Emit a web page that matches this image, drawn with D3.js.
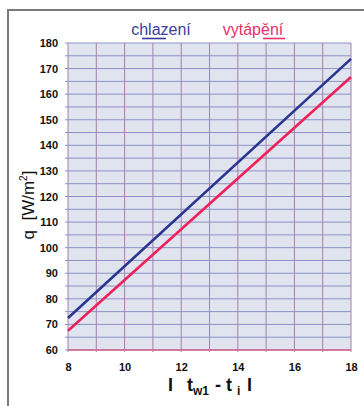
<!DOCTYPE html>
<meta charset="utf-8">
<style>
    body { margin: 0; background: #fff; }
    .tick text { font-family: "Liberation Sans", Arial, sans-serif; font-weight: bold; font-size: 11px; fill: #111; }
</style>
<svg width="364" height="406"></svg>
<script src="https://d3js.org/d3.v7.min.js"></script>
<script>
var xValues = [8, 18];
var chlazeni = [72.5, 173.8];
var vytapeni = [67.5, 166.7];
var xTicks = [8, 10, 12, 14, 16, 18];
var yTicks = [60, 70, 80, 90, 100, 110, 120, 130, 140, 150, 160, 170, 180];

var svg = d3.select("svg");
var plotLeft = 68, plotRight = 351, plotTop = 43, plotBottom = 350;

var x = d3.scaleLinear().domain([8, 18]).range([plotLeft, plotRight]);
var y = d3.scaleLinear().domain([60, 180]).range([plotBottom, plotTop]);

// frame
svg.append("path")
    .attr("d", "M8,420V10H370")
    .attr("fill", "none")
    .attr("stroke", "#7a7a7a")
    .attr("stroke-width", 2);

// paper
svg.append("rect")
    .attr("x", plotLeft).attr("y", plotTop)
    .attr("width", plotRight - plotLeft).attr("height", plotBottom - plotTop)
    .attr("fill", "#e0e4ef");

// grid
svg.append("g")
    .selectAll("line")
    .data(d3.range(60, 181, 5))
    .enter()
    .append("line")
    .attr("x1", plotLeft - 3).attr("x2", plotRight)
    .attr("y1", function(d) { return y(d); })
    .attr("y2", function(d) { return y(d); })
    .attr("stroke", "#8c92c4")
    .attr("stroke-width", 1);
svg.append("g")
    .selectAll("line")
    .data(d3.range(8, 18.5, 1))
    .enter()
    .append("line")
    .attr("y1", plotTop).attr("y2", plotBottom + 2)
    .attr("x1", function(d) { return x(d); })
    .attr("x2", function(d) { return x(d); })
    .attr("stroke", "#a77fae")
    .attr("stroke-width", 1);

// axes (labels only)
var yAxis = svg.append("g")
    .attr("transform", "translate(" + plotLeft + ",0)")
    .call(d3.axisLeft(y).tickValues(yTicks).tickSize(0).tickPadding(10));
var xAxis = svg.append("g")
    .attr("transform", "translate(0," + plotBottom + ")")
    .call(d3.axisBottom(x).tickValues(xTicks).tickSize(0).tickPadding(13));
yAxis.select(".domain").remove();
xAxis.select(".domain").remove();

// bottom line
svg.append("line")
    .attr("x1", plotLeft).attr("x2", plotRight)
    .attr("y1", plotBottom).attr("y2", plotBottom)
    .attr("stroke", "#d8608a").attr("stroke-width", 1.3);

// series
var line = d3.line()
    .x(function(d) { return x(d[0]); })
    .y(function(d) { return y(d[1]); });
svg.append("path")
    .datum(d3.zip(xValues, vytapeni))
    .attr("d", line)
    .attr("fill", "none")
    .attr("stroke", "#f0205a")
    .attr("stroke-width", 2.6);
svg.append("path")
    .datum(d3.zip(xValues, chlazeni))
    .attr("d", line)
    .attr("fill", "none")
    .attr("stroke", "#2a3590")
    .attr("stroke-width", 2.6);

// legend labels
var font = "Liberation Sans, Arial, sans-serif";
svg.append("text")
    .attr("x", 161).attr("y", 35)
    .attr("text-anchor", "middle")
    .attr("font-family", font).attr("font-size", 16)
    .attr("fill", "#3a3d9e")
    .text("chlazení");
svg.append("line")
    .attr("x1", 142).attr("x2", 166)
    .attr("y1", 38.5).attr("y2", 38.5)
    .attr("stroke", "#3a3d9e").attr("stroke-width", 1.6);
svg.append("text")
    .attr("x", 253).attr("y", 35)
    .attr("text-anchor", "middle")
    .attr("font-family", font).attr("font-size", 16)
    .attr("fill", "#e8306e")
    .text("vytápění");
svg.append("line")
    .attr("x1", 263).attr("x2", 285)
    .attr("y1", 38.5).attr("y2", 38.5)
    .attr("stroke", "#e8306e").attr("stroke-width", 1.6);

// axis titles
svg.append("text")
    .attr("transform", "translate(34,205) rotate(-90)")
    .attr("text-anchor", "middle")
    .attr("font-family", font).attr("font-size", 17)
    .attr("fill", "#111")
    .html('q&#160;&#160;[W/m<tspan dy="-7" font-size="10">2</tspan><tspan dy="7">]</tspan>');

var xt = svg.append("text")
    .attr("y", 391)
    .attr("font-family", font).attr("font-size", 18)
    .attr("font-weight", "bold")
    .attr("fill", "#111");
xt.append("tspan").attr("x", 168).text("I");
xt.append("tspan").attr("x", 187).text("t");
xt.append("tspan").attr("dy", 4).attr("font-size", 12).text("w1");
xt.append("tspan").attr("dy", -4).attr("x", 215).text("-");
xt.append("tspan").attr("x", 226).text("t");
xt.append("tspan").attr("dy", 4).attr("x", 237).attr("font-size", 12).text("i");
xt.append("tspan").attr("dy", -4).attr("x", 247).text("I");
</script>
